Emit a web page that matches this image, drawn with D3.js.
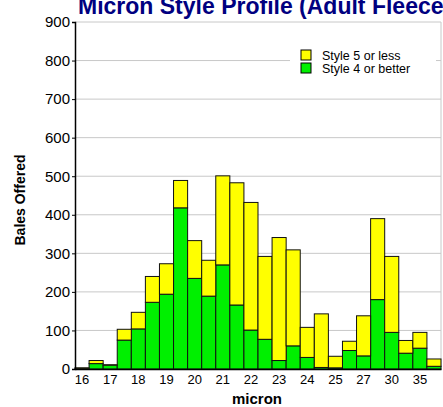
<!DOCTYPE html>
<html>
<head>
<meta charset="utf-8">
<script src="https://cdn.jsdelivr.net/npm/d3@7"></script>
<style>
  body { margin: 0; background: #fff; }
  svg { display: block; font-family: Arial, "Liberation Sans", sans-serif; }
</style>
</head>
<body>
<svg id="chart" width="443" height="407"></svg>
<script>
// micron classes (every second one is labelled on the axis)
var microns = ["16", "16.5", "17", "17.5", "18", "18.5", "19", "19.5", "20", "20.5",
               "21", "21.5", "22", "22.5", "23", "23.5", "24", "24.5", "25", "26",
               "27", "28", "30", "32", "35", "40"];
var style4OrBetter = [2, 14, 10, 75, 104, 173, 194, 418, 235, 189,
                      270, 166, 101, 77, 22, 60, 30, 4, 3, 48,
                      34, 180, 95, 41, 54, 7];
var style5OrLess = [1, 8, 1, 28, 43, 67, 79, 71, 98, 93,
                    231, 317, 331, 215, 319, 249, 78, 139, 30, 24,
                    104, 210, 197, 33, 41, 19];
var yTicks = [0, 100, 200, 300, 400, 500, 600, 700, 800, 900];
var seriesNames = ["Style 5 or less", "Style 4 or better"];
var seriesColors = ["#ffff00", "#00f000"];

function drawChart() {
  var svg = d3.select("#chart");
  var plotLeft = 75, plotRight = 441, plotTop = 22, plotBottom = 369;

  var x = d3.scaleBand().domain(microns).range([plotLeft, plotRight]).padding(0);
  var y = d3.scaleLinear().domain([0, 900]).range([plotBottom, plotTop]);

  // gridlines
  svg.append("g")
    .selectAll("line")
    .data(yTicks.slice(1))
    .enter()
    .append("line")
    .attr("x1", plotLeft)
    .attr("x2", plotRight)
    .attr("y1", function(d) { return y(d); })
    .attr("y2", function(d) { return y(d); })
    .attr("stroke", "#c8c8c8")
    .attr("stroke-width", 1);

  // right frame
  svg.append("line")
    .attr("x1", plotRight).attr("x2", plotRight)
    .attr("y1", plotTop).attr("y2", plotBottom)
    .attr("stroke", "#c8c8c8");

  // stacked bars
  var rows = microns.map(function(m, i) {
    return { micron: m, good: style4OrBetter[i], poor: style5OrLess[i] };
  });
  var layers = d3.stack().keys(["good", "poor"])(rows);
  var layerColors = [seriesColors[1], seriesColors[0]];

  svg.append("g")
    .selectAll("g")
    .data(layers)
    .enter()
    .append("g")
    .attr("fill", function(d, i) { return layerColors[i]; })
    .selectAll("rect")
    .data(function(d) { return d; })
    .enter()
    .append("rect")
    .attr("x", function(d) { return x(d.data.micron); })
    .attr("width", x.bandwidth())
    .attr("y", function(d) { return y(d[1]); })
    .attr("height", function(d) { return y(d[0]) - y(d[1]); })
    .attr("stroke", "#111")
    .attr("stroke-width", 1);

  // y axis
  var yAxis = svg.append("g")
    .attr("transform", "translate(" + plotLeft + ",0)")
    .call(d3.axisLeft(y).tickValues(yTicks).tickSize(3).tickPadding(2));
  yAxis.select(".domain").attr("stroke", "#000").attr("stroke-width", 1.5);
  yAxis.selectAll("text")
    .attr("fill", "#000")
    .style("font-size", "15px")
    .style("font-family", "Arial, 'Liberation Sans', sans-serif");

  // x axis
  var xAxis = svg.append("g")
    .attr("transform", "translate(0," + plotBottom + ")")
    .call(d3.axisBottom(x).tickSize(0).tickPadding(6)
      .tickFormat(function(d, i) { return i % 2 === 0 ? d : ""; }));
  xAxis.select(".domain").attr("stroke", "#000").attr("stroke-width", 1.5);
  xAxis.selectAll("text")
    .attr("fill", "#000")
    .style("font-size", "13px")
    .style("font-family", "Arial, 'Liberation Sans', sans-serif");

  // title
  svg.append("text")
    .attr("x", 78)
    .attr("y", 14)
    .attr("fill", "#000080")
    .attr("font-weight", "bold")
    .style("font-size", "23px")
    .text("Micron Style Profile (Adult Fleece)");

  // axis titles
  svg.append("text")
    .attr("transform", "translate(25,200) rotate(-90)")
    .attr("text-anchor", "middle")
    .attr("font-weight", "bold")
    .style("font-size", "14px")
    .text("Bales Offered");

  svg.append("text")
    .attr("x", 257)
    .attr("y", 404)
    .attr("text-anchor", "middle")
    .attr("font-weight", "bold")
    .style("font-size", "15px")
    .text("micron");

  // legend
  var legend = svg.append("g");
  legend.append("rect")
    .attr("x", 290).attr("y", 45)
    .attr("width", 146).attr("height", 33)
    .attr("fill", "#fff");
  var items = legend.selectAll("g")
    .data(seriesNames)
    .enter()
    .append("g")
    .attr("transform", function(d, i) { return "translate(301," + (50 + i * 13) + ")"; });
  items.append("rect")
    .attr("width", 10).attr("height", 10)
    .attr("fill", function(d, i) { return seriesColors[i]; })
    .attr("stroke", "#000");
  items.append("text")
    .attr("x", 21)
    .attr("y", 9.5)
    .style("font-size", "12.5px")
    .text(function(d) { return d; });
}

drawChart();
</script>
</body>
</html>
